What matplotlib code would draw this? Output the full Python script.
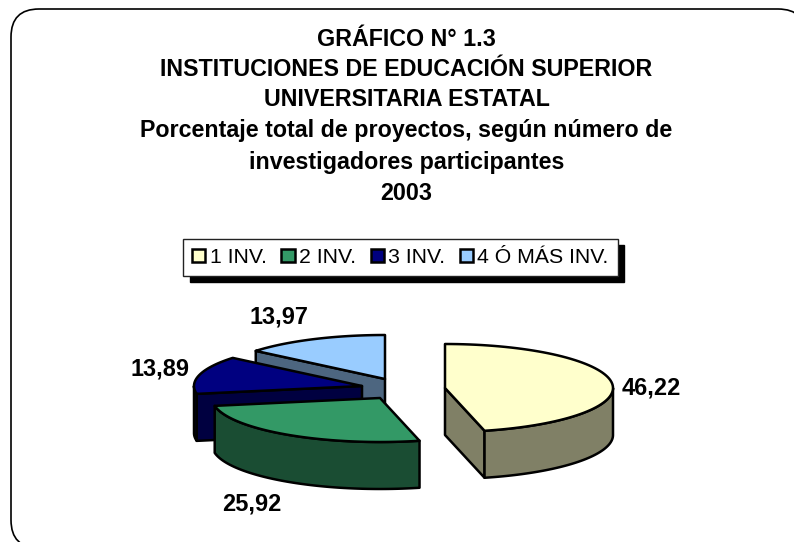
import numpy as np
import matplotlib
matplotlib.use("Agg")
import matplotlib.pyplot as plt
from matplotlib.patches import Polygon, FancyBboxPatch, Patch

plt.rcParams['font.family'] = ['Liberation Sans', 'DejaVu Sans']

# ---- data ----
categories = ["1 INV.", "2 INV.", "3 INV.", "4 Ó MÁS INV."]
values = [46.22, 25.92, 13.89, 13.97]
value_labels = ["46,22", "25,92", "13,89", "13,97"]
title_lines = ["GRÁFICO N° 1.3",
               "INSTITUCIONES DE EDUCACIÓN SUPERIOR",
               "UNIVERSITARIA ESTATAL",
               "Porcentaje total de proyectos, según número de",
               "investigadores participantes",
               "2003"]

# ---- styles ----
top_colors = ["#FFFFCC", "#339966", "#000080", "#99CCFF"]
side_colors = ["#808066", "#1A4D33", "#000040", "#4D6680"]
centres = [(445, 388), (380, 398), (362, 386), (385, 379)]
label_pos = [(651, 388), (252, 504), (160, 369), (279, 317)]
title_y = [40, 69, 99, 131, 163, 193]
RX, RY, DEPTH = 168, 44, 47
LW = 1.8

fig = plt.figure(figsize=(7.94, 5.42), dpi=100)
ax = fig.add_axes([0, 0, 1, 1])
ax.set_xlim(0, 794)
ax.set_ylim(542, 0)
ax.axis("off")

ax.add_patch(FancyBboxPatch((11, 9), 795, 539, boxstyle="round,pad=0,rounding_size=28",
                            fc="white", ec="black", lw=1.2, clip_on=True, zorder=0, mutation_aspect=1))


def arc(cx, cy, t1, t2, n=80):
    t = np.radians(np.linspace(t1, t2, n))
    return np.column_stack([cx + RX * np.sin(t), cy - RY * np.cos(t)])


fractions = np.array(values) / np.sum(values) * 360
edges = np.concatenate([[0], np.cumsum(fractions)])
# painter's order: back slices first
for i in [3, 2, 1, 0]:
    t1, t2 = edges[i], edges[i + 1]
    cx, cy = centres[i]
    z = 2 + (3 - i)
    kw = dict(fc=side_colors[i], ec="black", lw=LW, joinstyle="round", zorder=z)
    # cut faces
    for t in (t1, t2):
        s = np.sin(np.radians(t))
        visible = (t == t1 and s < -1e-6) or (t == t2 and s > 1e-6)
        if visible:
            p = arc(cx, cy, t, t, 1)[0]
            ax.add_patch(Polygon([(cx, cy), p, p + (0, DEPTH), (cx, cy + DEPTH)], closed=True, **kw))
    # outer wall (front half only)
    a, b = max(t1, 90), min(t2, 270)
    if b > a:
        rim = arc(cx, cy, a, b)
        ax.add_patch(Polygon(np.vstack([rim, (rim + (0, DEPTH))[::-1]]), closed=True, **kw))
    # top face
    ax.add_patch(Polygon(np.vstack([[(cx, cy)], arc(cx, cy, t1, t2)]), closed=True,
                         fc=top_colors[i], ec="black", lw=LW, joinstyle="round", zorder=z))

for (x, y), s in zip(label_pos, value_labels):
    ax.text(x, y, s, ha="center", va="center", fontsize=16.9, fontweight="bold", color="black", zorder=10)

for y, s in zip(title_y, title_lines):
    ax.text(406.5, y, s, ha="center", va="center", fontsize=16.75, fontweight="bold", color="black", zorder=10)

handles = [Patch(fc=c, ec="black", lw=1.8) for c in top_colors]
leg = ax.legend(handles, categories, loc="center", bbox_to_anchor=(400.5, 257.5),
                bbox_transform=ax.transData, ncols=4, fontsize=15.3,
                frameon=True, fancybox=False, framealpha=1, edgecolor="#222222",
                shadow={'ox': 4.5, 'oy': -4.5, 'color': 'black', 'alpha': 1},
                handlelength=0.62, handleheight=0.62, handletextpad=0.2, columnspacing=0.7,
                borderpad=0.42, borderaxespad=0)
leg.get_frame().set_linewidth(1.0)
leg.set_zorder(10)

fig.savefig("out.png", dpi=100)
